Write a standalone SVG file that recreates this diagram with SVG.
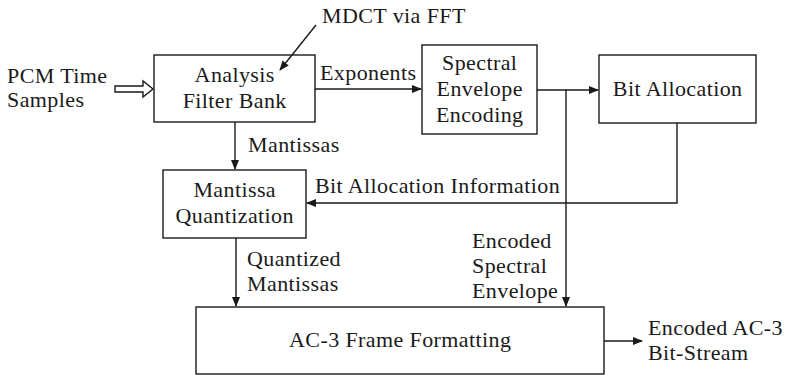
<svg xmlns="http://www.w3.org/2000/svg" width="787" height="376" viewBox="0 0 787 376">
<defs>
<style>
text{font-family:"Liberation Serif","Times New Roman",serif;font-size:22px;letter-spacing:0.4px;fill:#1a1a1a}
.box{fill:#fff;stroke:#1a1a1a;stroke-width:1.4}
.c{text-anchor:middle}
.ln{fill:none;stroke:#1a1a1a;stroke-width:1.4}
</style>
<marker id="ah" markerWidth="10" markerHeight="8" refX="9" refY="4" orient="auto" markerUnits="userSpaceOnUse">
<path d="M0,0 L10,4 L0,8 z" fill="#1a1a1a"/>
</marker>
</defs>
<rect width="787" height="376" fill="#fff"/>
<g id="pcm"><text x="7" y="83">PCM Time</text><text x="7" y="107">Samples</text></g>
<g id="mdct"><text x="322" y="23">MDCT via FFT</text></g>
<g id="analysis">
<rect class="box" x="154" y="55" width="161" height="67"/>
<text class="c" x="234.7" y="82">Analysis</text>
<text class="c" x="234.7" y="108">Filter Bank</text>
</g>
<g id="spectral">
<rect class="box" x="422" y="45" width="115" height="89"/>
<text class="c" x="479.7" y="70">Spectral</text>
<text class="c" x="479.7" y="96">Envelope</text>
<text class="c" x="479.7" y="122">Encoding</text>
</g>
<g id="bitalloc">
<rect class="box" x="599" y="55" width="157" height="68"/>
<text class="c" x="677.7" y="96">Bit Allocation</text>
</g>
<g id="mantissa">
<rect class="box" x="163" y="170" width="143" height="68"/>
<text class="c" x="234.7" y="197">Mantissa</text>
<text class="c" x="234.7" y="223">Quantization</text>
</g>
<g id="frame">
<rect class="box" x="196" y="307" width="408" height="67"/>
<text class="c" x="400.2" y="347">AC-3 Frame Formatting</text>
</g>
<g id="connectors">
<path class="ln" d="M316,25 L280,70" marker-end="url(#ah)"/>
<path class="ln" d="M315,89 L421,89" marker-end="url(#ah)"/>
<path class="ln" d="M537,90 L598,90" marker-end="url(#ah)"/>
<path class="ln" d="M566,90 L566,306" marker-end="url(#ah)"/>
<path class="ln" d="M677,123 L677,203 L307,203" marker-end="url(#ah)"/>
<path class="ln" d="M235,122 L235,169" marker-end="url(#ah)"/>
<path class="ln" d="M236,238 L236,306" marker-end="url(#ah)"/>
<path class="ln" d="M604,341 L642,341" marker-end="url(#ah)"/>
<path class="ln" d="M115,86 L143,86 L143,81 L153,89 L143,97 L143,92 L115,92 Z" fill="#fff"/>
</g>
<g id="labels">
<text x="320" y="80">Exponents</text>
<text x="248" y="152">Mantissas</text>
<text x="315" y="193">Bit Allocation Information</text>
<text x="472" y="248">Encoded</text>
<text x="472" y="273">Spectral</text>
<text x="472" y="298">Envelope</text>
<text x="247" y="266">Quantized</text>
<text x="247" y="291">Mantissas</text>
<text x="648" y="335">Encoded AC-3</text>
<text x="648" y="360">Bit-Stream</text>
</g>
</svg>
